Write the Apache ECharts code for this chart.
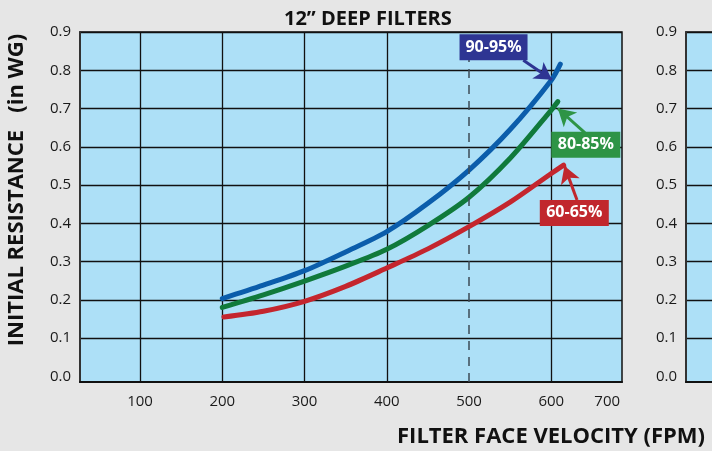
<!DOCTYPE html>
<html>
<head>
<meta charset="utf-8">
<script src="https://cdn.jsdelivr.net/npm/echarts@6/dist/echarts.min.js"></script>
<style>
  html, body { margin: 0; padding: 0; background: #e6e6e6; }
  #main { width: 712px; height: 451px; }
</style>
</head>
<body>
<div id="main"></div>
<script>
// curve data (FPM, in WG)
var blueX  = [200, 250, 300, 350, 400, 450, 500, 550, 600, 611];
var blueY  = [0.203, 0.238, 0.276, 0.325, 0.378, 0.452, 0.539, 0.645, 0.774, 0.816];
var greenX = [200, 250, 300, 350, 400, 450, 500, 550, 600, 608];
var greenY = [0.180, 0.213, 0.249, 0.288, 0.332, 0.394, 0.468, 0.570, 0.696, 0.718];
var redX   = [202, 250, 300, 350, 400, 450, 500, 550, 600, 615];
var redY   = [0.155, 0.170, 0.196, 0.235, 0.283, 0.333, 0.391, 0.455, 0.530, 0.552];

var seriesNames = ['90-95%', '80-85%', '60-65%'];

// axis ticks
var xGridValues = [100, 200, 300, 400, 600];
var xLabelValues = [100, 200, 300, 400, 500, 600, 668];
var xLabelTexts = ['100', '200', '300', '400', '500', '600', '700'];
var yGridValues = [0.1, 0.2, 0.3, 0.4, 0.5, 0.6, 0.7, 0.8, 0.9];
var yLabelValues = [0, 0.1, 0.2, 0.3, 0.4, 0.5, 0.6, 0.7, 0.8, 0.9];

var FONT = 'Open Sans';

function pairs(xs, ys) {
    var out = [];
    for (var i = 0; i < xs.length; i++) out.push([xs[i], ys[i]]);
    return out;
}

// label box + arrow for each curve (data coords)
function callout(name, boxAt, from, to, color, w) {
    return {
        markPoint: {
            silent: true,
            animation: false,
            symbol: 'rect',
            symbolSize: [w, 26],
            itemStyle: { color: color },
            label: {
                show: true, position: 'inside', formatter: '{b}',
                color: '#fff', fontFamily: FONT, fontWeight: 'bold', fontSize: 16
            },
            data: [{ name: name, coord: boxAt }]
        },
        markLine: {
            silent: true,
            animation: false,
            symbol: ['none', 'arrow'],
            symbolSize: [15, 17],
            lineStyle: { color: color, width: 3, type: 'solid' },
            label: { show: false },
            data: [[{ coord: from }, { coord: to }]]
        }
    };
}

var chart = echarts.init(document.getElementById('main'));

var yAxisBase = {
    type: 'value',
    min: -0.015,
    max: 0.9,
    axisLine: { show: true, lineStyle: { color: '#333', width: 2 } },
    axisTick: { show: false, customValues: yGridValues },
    splitLine: { show: true, lineStyle: { color: '#111', width: 1.3 } },
    axisLabel: {
        customValues: yLabelValues,
        formatter: function (v) { return v.toFixed(1); },
        color: '#1a1a1a', fontFamily: FONT, fontSize: 15, margin: 9
    }
};

var blue = callout(seriesNames[0], [529.8, 0.860], [566, 0.826], [600.8, 0.775], '#2e3593', 68);
var green = callout(seriesNames[1], [642, 0.605], [641, 0.636], [608, 0.700], '#2e9446', 69);
var red = callout(seriesNames[2], [628, 0.427], [631.3, 0.461], [616, 0.550], '#c1272d', 69);

var content = {
    backgroundColor: '#e6e6e6',
    animation: false,
    title: [{
        text: '12\u201d DEEP FILTERS',
        left: 279,
        top: 4,
        textStyle: { fontFamily: FONT, fontWeight: 'bold', fontSize: 20, color: '#111' }
    }, {
        text: 'FILTER FACE VELOCITY (FPM)',
        right: 2,
        top: 421,
        textStyle: { fontFamily: FONT, fontWeight: 'bold', fontSize: 22, color: '#111' }
    }],
    graphic: [{
        type: 'text',
        x: 17,
        y: 190,
        rotation: Math.PI / 2,
        style: {
            text: 'INITIAL RESISTANCE   (in WG)',
            font: 'bold 22px "Open Sans"',
            fill: '#111',
            align: 'center',
            verticalAlign: 'middle'
        }
    }],
    grid: [{
        left: 80, top: 32, right: 90, bottom: 69,
        show: true,
        backgroundColor: '#ade0f7',
        borderColor: '#111',
        borderWidth: 1.5
    }, {
        left: 686, top: 32, width: 300, bottom: 69,
        show: true,
        backgroundColor: '#ade0f7',
        borderColor: '#111',
        borderWidth: 1.5
    }],
    xAxis: [{
        type: 'value',
        gridIndex: 0,
        min: 27,
        max: 686,
        axisLine: { show: true, onZero: false, lineStyle: { color: '#111', width: 2 } },
        axisTick: { show: false, customValues: xGridValues },
        splitLine: { show: true, lineStyle: { color: '#111', width: 1.3 } },
        axisLabel: {
            customValues: xLabelValues,
            formatter: function (v) { return xLabelTexts[xLabelValues.indexOf(v)]; },
            color: '#1a1a1a', fontFamily: FONT, fontSize: 15, margin: 12
        }
    }, {
        type: 'value',
        gridIndex: 1,
        min: 0,
        max: 1,
        axisLine: { show: true, onZero: false, lineStyle: { color: '#111', width: 2 } },
        axisTick: { show: false },
        splitLine: { show: false },
        axisLabel: { show: false }
    }],
    yAxis: [
        Object.assign({ gridIndex: 0 }, yAxisBase),
        Object.assign({ gridIndex: 1 }, yAxisBase)
    ],
    series: [{
        name: seriesNames[0],
        type: 'line',
        smooth: 0.3,
        showSymbol: false,
        lineStyle: { color: '#0b5dab', width: 5, cap: 'round' },
        data: pairs(blueX, blueY),
        markPoint: blue.markPoint,
        markLine: blue.markLine,
        z: 4
    }, {
        name: seriesNames[1],
        type: 'line',
        smooth: 0.3,
        showSymbol: false,
        lineStyle: { color: '#107a3b', width: 5, cap: 'round' },
        data: pairs(greenX, greenY),
        markPoint: green.markPoint,
        markLine: green.markLine,
        z: 3
    }, {
        name: seriesNames[2],
        type: 'line',
        smooth: 0.3,
        showSymbol: false,
        lineStyle: { color: '#c4262e', width: 5, cap: 'round' },
        data: pairs(redX, redY),
        markPoint: red.markPoint,
        markLine: red.markLine,
        z: 2
    }, {
        // dashed reference line at 500 FPM
        type: 'line',
        data: [],
        markLine: {
            silent: true,
            animation: false,
            symbol: 'none',
            label: { show: false },
            lineStyle: { color: '#3d4b57', width: 1.5, type: [9, 7] },
            data: [{ xAxis: 500 }]
        },
        z: 1
    }]
};

chart.setOption(content);
</script>
</body>
</html>
